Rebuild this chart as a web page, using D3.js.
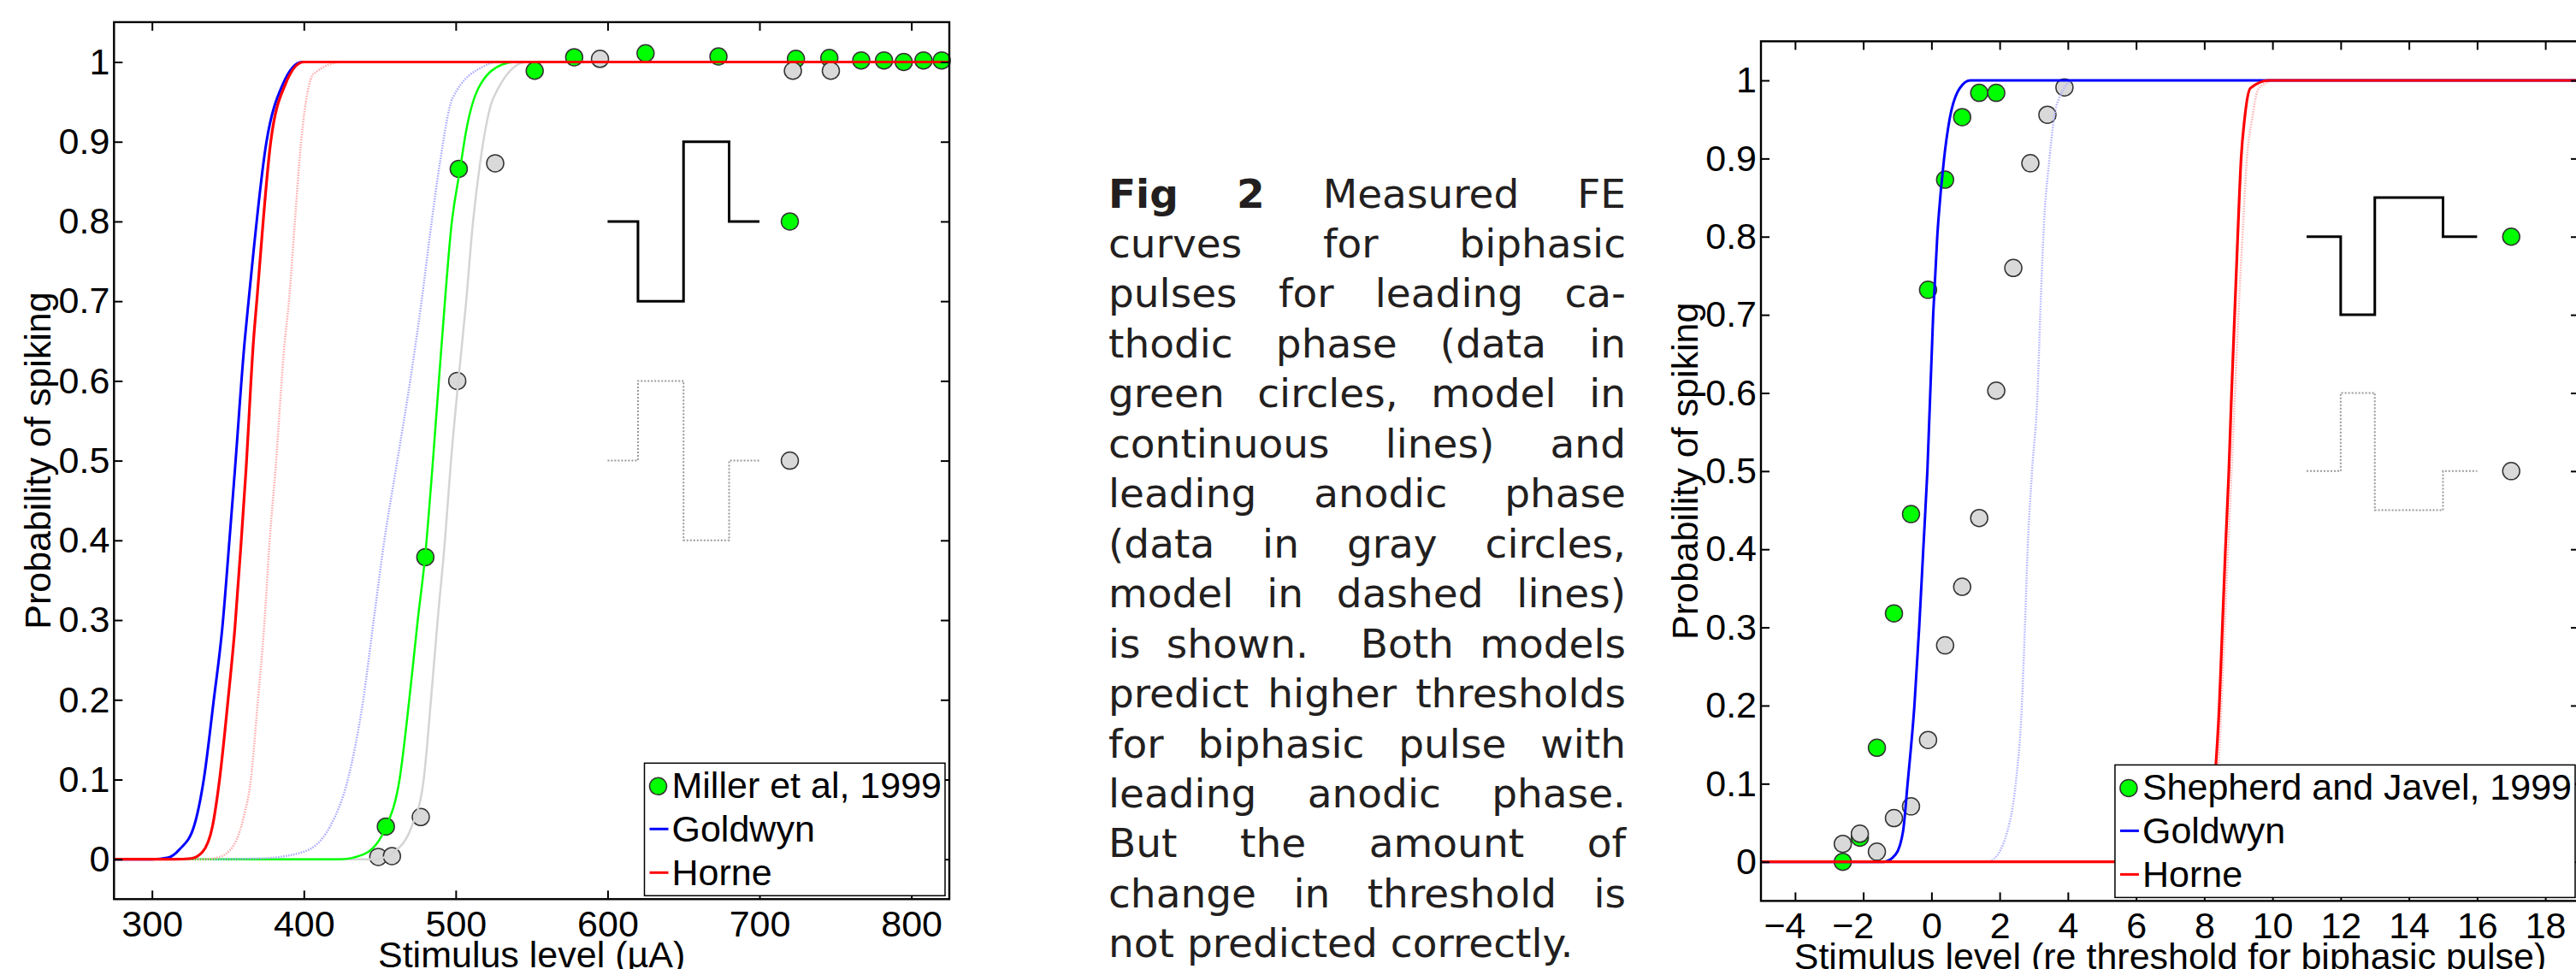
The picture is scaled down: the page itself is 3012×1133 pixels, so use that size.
<!DOCTYPE html>
<html>
<head>
<meta charset="utf-8">
<script src="https://cdn.jsdelivr.net/npm/d3@7"></script>
<style>
  body { margin: 0; background: #fff; }
  svg text { font-family: "Liberation Sans", Arial, Helvetica, sans-serif; }
</style>
</head>
<body>
<svg id="fig" width="3012" height="1133"></svg>
<script>
// ------------------------
// Shared axis values
// ------------------------
const probDomain = [-0.05, 1.05];
const probTicks = [0, 0.1, 0.2, 0.3, 0.4, 0.5, 0.6, 0.7, 0.8, 0.9, 1];
const probTickLabels = ["0", "0.1", "0.2", "0.3", "0.4", "0.5", "0.6", "0.7", "0.8", "0.9", "1"];

// ------------------------
// Left panel: Miller et al, 1999 (µA)
// ------------------------
const leftXDomain = [275, 825];
const leftXTicks = [300, 400, 500, 600, 700, 800];
const leftXTickLabels = ["300", "400", "500", "600", "700", "800"];

// measured points: [stimulus, probability]
const millerCathodic = [[454, 0.041], [480, 0.379], [502, 0.866], [552, 0.989], [578, 1.006],
  [625, 1.011], [673, 1.007], [724, 1.004], [746, 1.005], [767, 1.002], [782, 1.002],
  [795, 1.000], [808, 1.002], [820, 1.002]];
const millerAnodic = [[449, 0.003], [458, 0.004], [477, 0.053], [501, 0.600], [526, 0.873],
  [595, 1.004], [722, 0.989], [747, 0.989]];

// model / fit curves
const leftGoldwynCath = [[275, 0], [300, 0], [310.7, 0.002], [318.2, 0.0125], [327.6, 0.041],
  [334.1, 0.1], [340.7, 0.2], [346.3, 0.29], [351, 0.4], [354.6, 0.488], [361, 0.649],
  [363.6, 0.7], [375.4, 0.9], [385.9, 0.971], [398.9, 1], [825, 1]];
const leftHorneCath = [[275, 0], [315, 0], [325.7, 0.001], [333.2, 0.009], [339.8, 0.041],
  [344.5, 0.1], [350.1, 0.2], [354.6, 0.29], [358.8, 0.4], [361.9, 0.488], [366.8, 0.649],
  [369, 0.7], [378.2, 0.9], [387.6, 0.971], [399.8, 1], [825, 1]];
const leftHorneAnod = [[275, 0], [335, 0], [344.5, 0.003], [353.8, 0.0175], [360.4, 0.053],
  [365.1, 0.1], [369.8, 0.2], [373.8, 0.29], [377.5, 0.4], [381.3, 0.488], [387.4, 0.649],
  [390.2, 0.7], [394.1, 0.8], [398.2, 0.9], [406.4, 0.985], [425.2, 1], [825, 1]];
const leftGoldwynAnod = [[275, 0], [340, 0], [371.4, 0.001], [399.3, 0.009], [417.2, 0.041],
  [429.1, 0.101], [439.1, 0.2], [446, 0.3], [453, 0.4], [460.5, 0.488], [470, 0.6],
  [477.5, 0.7], [483.5, 0.79], [489.5, 0.8725], [498, 0.955], [518.8, 0.995], [526.8, 1], [825, 1]];
const leftCathFit = [[275, 0], [423.2, 0], [439.1, 0.006], [454.2, 0.041], [463, 0.1],
  [469.4, 0.2], [475, 0.3], [479.8, 0.379], [485, 0.5], [488.9, 0.6], [492.9, 0.7],
  [496.9, 0.79], [502.9, 0.866], [506.9, 0.914], [514.9, 0.967], [530.8, 0.997], [538.7, 1], [825, 1]];
const leftAnodFit = [[275, 0], [447.1, 0], [463, 0.015], [471, 0.041], [478.9, 0.1],
  [483.7, 0.2], [488.1, 0.3], [492.9, 0.4], [496.9, 0.5], [501.7, 0.6], [506.9, 0.7],
  [510.9, 0.79], [516, 0.8725], [524.8, 0.955], [546.6, 1], [825, 1]];

// pulse shape icons
const leftPulseCath = [[600, 0.8], [620, 0.8], [620, 0.7], [650, 0.7], [650, 0.9], [680, 0.9], [680, 0.8], [700, 0.8]];
const leftPulseAnod = [[600, 0.5], [620, 0.5], [620, 0.6], [650, 0.6], [650, 0.4], [680, 0.4], [680, 0.5], [700, 0.5]];
const leftIconMarks = [[720, 0.8], [720, 0.5]];

// ------------------------
// Right panel: Shepherd and Javel, 1999 (re threshold)
// ------------------------
const rightXDomain = [-5, 19];
const rightXTicks = [-4, -2, 0, 2, 4, 6, 8, 10, 12, 14, 16, 18];
const rightXTickLabels = ["\u22124", "\u22122", "0", "2", "4", "6", "8", "10", "12", "14", "16", "18"];

const shepherdCathodic = [[-2.6, 0.0], [-2.1, 0.031], [-1.6, 0.146], [-1.1, 0.318], [-0.6, 0.445],
  [-0.1, 0.732], [0.4, 0.873], [0.9, 0.953], [1.4, 0.984], [1.9, 0.984]];
const shepherdAnodic = [[-2.6, 0.023], [-2.1, 0.036], [-1.6, 0.013], [-1.1, 0.056], [-0.6, 0.071],
  [-0.1, 0.156], [0.4, 0.277], [0.9, 0.352], [1.4, 0.440], [1.9, 0.603], [2.4, 0.760],
  [2.9, 0.894], [3.4, 0.956], [3.9, 0.991]];

const rightGoldwynCath = [[-5, 0], [-1.4, 0], [-1.05, 0.0095], [-0.83, 0.04], [-0.7, 0.1],
  [-0.5, 0.2], [-0.36, 0.3], [-0.24, 0.4], [-0.12, 0.5], [0.05, 0.7], [0.17, 0.8],
  [0.37, 0.9], [0.53, 0.95], [0.83, 0.99], [1.14, 1], [19, 1]];
const rightGoldwynAnod = [[-5, 0], [1.6, 0], [1.77, 0.002], [2.29, 0.05], [2.47, 0.1],
  [2.65, 0.2], [2.74, 0.3], [2.82, 0.4], [2.95, 0.5], [3.11, 0.6], [3.19, 0.7],
  [3.28, 0.8], [3.46, 0.9], [3.68, 0.97], [4.17, 1], [19, 1]];
const rightHorneCath = [[-5, 0], [7.9, 0], [8.15, 0.03], [8.3, 0.1], [8.44, 0.2], [8.53, 0.3],
  [8.62, 0.4], [8.72, 0.5], [8.8, 0.6], [8.89, 0.7], [8.98, 0.8], [9.08, 0.9],
  [9.18, 0.95], [9.35, 0.99], [9.9, 1], [19, 1]];
const rightHorneAnod = [[-5, 0], [8.0, 0], [8.38, 0.1], [8.6, 0.3], [8.7, 0.4], [8.8, 0.5],
  [8.9, 0.6], [9.0, 0.7], [9.12, 0.8], [9.25, 0.9], [9.4, 0.95], [9.6, 0.99], [10.1, 1], [19, 1]];

const rightPulseCath = [[11, 0.8], [12, 0.8], [12, 0.7], [13, 0.7], [13, 0.85], [15, 0.85], [15, 0.8], [16, 0.8]];
const rightPulseAnod = [[11, 0.5], [12, 0.5], [12, 0.6], [13, 0.6], [13, 0.45], [15, 0.45], [15, 0.5], [16, 0.5]];
const rightIconMarks = [[17, 0.8], [17, 0.5]];

// ------------------------
// Caption text (justified block)
// ------------------------
const captionLines = [
  "Fig 2 Measured FE",
  "curves for biphasic",
  "pulses for leading ca-",
  "thodic phase (data in",
  "green circles, model in",
  "continuous lines) and",
  "leading anodic phase",
  "(data in gray circles,",
  "model in dashed lines)",
  "is shown. Both models",
  "predict higher thresholds",
  "for biphasic pulse with",
  "leading anodic phase.",
  "But the amount of",
  "change in threshold is",
  "not predicted correctly."
];
const captionBoldWords = 2;

const GREEN = "#00ff00";
const GRAY = "#d9d9d9";
const FONT = 43;

const svg = d3.select("#fig");
svg.append("rect").attr("width", 3012).attr("height", 1133).attr("fill", "#fff");

function drawPanel(cfg) {
  const x = d3.scaleLinear().domain(cfg.xDomain).range([cfg.left, cfg.right]);
  const y = d3.scaleLinear().domain(probDomain).range([cfg.bottom, cfg.top]);
  const g = svg.append("g");

  const clipId = "clip-" + cfg.id;
  svg.append("clipPath").attr("id", clipId).append("rect")
    .attr("x", cfg.left).attr("y", cfg.top)
    .attr("width", cfg.right - cfg.left).attr("height", cfg.bottom - cfg.top);

  // data points (lines are drawn over them)
  const points = (pts, fill) => g.append("g").selectAll("circle")
    .data(pts).join("circle")
    .attr("cx", d => x(d[0])).attr("cy", d => y(d[1])).attr("r", 10)
    .attr("fill", fill).attr("stroke", "#333").attr("stroke-width", 1.5);
  points(cfg.green, GREEN);
  points(cfg.gray, GRAY);

  const line = d3.line().x(d => x(d[0])).y(d => y(d[1])).curve(d3.curveMonotoneX);
  const cg = g.append("g").attr("clip-path", `url(#${clipId})`);
  cfg.curves.forEach(c => {
    cg.append("path").datum(c.data)
      .attr("d", line)
      .attr("fill", "none")
      .attr("stroke", c.color)
      .attr("stroke-width", c.width)
      .attr("stroke-dasharray", c.dash || null);
  });

  // pulse icons
  const step = d3.line().x(d => x(d[0])).y(d => y(d[1]));
  g.append("path").datum(cfg.pulseCath).attr("d", step)
    .attr("fill", "none").attr("stroke", "#000").attr("stroke-width", 3);
  g.append("path").datum(cfg.pulseAnod).attr("d", step)
    .attr("fill", "none").attr("stroke", "#999").attr("stroke-width", 2)
    .attr("stroke-dasharray", "2,2");
  g.selectAll("circle.icon").data(cfg.iconMarks).join("circle")
    .attr("class", "icon")
    .attr("cx", d => x(d[0])).attr("cy", d => y(d[1])).attr("r", 10)
    .attr("fill", (d, i) => i === 0 ? GREEN : GRAY)
    .attr("stroke", "#333").attr("stroke-width", 1.5);

  // axes: box with inward ticks on all four sides
  const styleAxis = sel => {
    sel.select(".domain").remove();
    sel.attr("font-size", FONT).attr("font-family", '"Liberation Sans", Arial, sans-serif');
    sel.selectAll("line").attr("stroke", "#000").attr("stroke-width", 2);
    sel.selectAll("text").attr("fill", "#000");
  };
  g.append("g").attr("transform", `translate(0,${cfg.bottom})`)
    .call(d3.axisBottom(x).tickValues(cfg.xTicks)
      .tickFormat((d, i) => cfg.xTickLabels[i])
      .tickSize(-10).tickSizeOuter(0).tickPadding(13))
    .call(styleAxis)
    .selectAll("text").attr("dx", d => d < 0 ? "-0.29em" : null);
  g.append("g").attr("transform", `translate(0,${cfg.top})`)
    .call(d3.axisTop(x).tickValues(cfg.xTicks).tickFormat("").tickSize(-10).tickSizeOuter(0))
    .call(styleAxis);
  g.append("g").attr("transform", `translate(${cfg.left},0)`)
    .call(d3.axisLeft(y).tickValues(probTicks)
      .tickFormat((d, i) => probTickLabels[i])
      .tickSize(-10).tickSizeOuter(0).tickPadding(5))
    .call(styleAxis);
  g.append("g").attr("transform", `translate(${cfg.right},0)`)
    .call(d3.axisRight(y).tickValues(probTicks).tickFormat("").tickSize(-10).tickSizeOuter(0))
    .call(styleAxis);

  g.append("rect")
    .attr("x", cfg.left).attr("y", cfg.top)
    .attr("width", cfg.right - cfg.left).attr("height", cfg.bottom - cfg.top)
    .attr("fill", "none").attr("stroke", "#000").attr("stroke-width", 2.4);

  // axis labels
  g.append("text")
    .attr("x", (cfg.left + cfg.right) / 2).attr("y", cfg.bottom + 80)
    .attr("text-anchor", "middle").attr("font-size", FONT)
    .text(cfg.xLabel);
  g.append("text")
    .attr("transform", `translate(${cfg.left - 74},${(cfg.top + cfg.bottom) / 2}) rotate(-90)`)
    .attr("text-anchor", "middle").attr("font-size", FONT)
    .text("Probability of spiking");

  // legend (bottom right corner)
  const lg = g.append("g");
  const names = [cfg.dataName, "Goldwyn", "Horne"];
  const lBottom = cfg.bottom - 4, lHeight = 155;
  const lTop = lBottom - lHeight;
  const texts = lg.selectAll("text").data(names).join("text")
    .attr("y", (d, i) => lTop + 41 + i * 51)
    .attr("font-size", FONT)
    .text(d => d);
  const tw = d3.max(texts.nodes(), n => n.getComputedTextLength());
  const lWidth = 32 + tw + 4;
  const lLeft = cfg.right - 5 - lWidth;
  texts.attr("x", lLeft + 32);
  lg.insert("rect", ":first-child")
    .attr("x", lLeft).attr("y", lTop).attr("width", lWidth).attr("height", lHeight)
    .attr("fill", "#fff").attr("stroke", "#000").attr("stroke-width", 1.5);
  lg.append("circle")
    .attr("cx", lLeft + 16).attr("cy", lTop + 27).attr("r", 10)
    .attr("fill", GREEN).attr("stroke", "#333").attr("stroke-width", 1.5);
  ["#0000ff", "#ff0000"].forEach((c, i) => {
    lg.append("line")
      .attr("x1", lLeft + 6).attr("x2", lLeft + 28)
      .attr("y1", lTop + 41 + (i + 1) * 51 - 15).attr("y2", lTop + 41 + (i + 1) * 51 - 15)
      .attr("stroke", c).attr("stroke-width", 3);
  });
}

const dotted = "1.5,1.5";

drawPanel({
  id: "left", left: 133.3, right: 1110, top: 25.9, bottom: 1051.3,
  xDomain: leftXDomain, xTicks: leftXTicks, xTickLabels: leftXTickLabels,
  xLabel: "Stimulus level (\u00b5A)", dataName: "Miller et al, 1999",
  green: millerCathodic, gray: millerAnodic,
  curves: [
    { data: leftAnodFit, color: "#d4d4d4", width: 2.5 },
    { data: leftCathFit, color: "#00ff00", width: 2.5 },
    { data: leftGoldwynAnod, color: "#a8a8ff", width: 2.5, dash: dotted },
    { data: leftHorneAnod, color: "#ffaaaa", width: 2.5, dash: dotted },
    { data: leftGoldwynCath, color: "#0000ff", width: 3 },
    { data: leftHorneCath, color: "#ff0000", width: 3.2 }
  ],
  pulseCath: leftPulseCath, pulseAnod: leftPulseAnod, iconMarks: leftIconMarks
});

drawPanel({
  id: "right", left: 2059, right: 3016, top: 48.3, bottom: 1053.4,
  xDomain: rightXDomain, xTicks: rightXTicks, xTickLabels: rightXTickLabels,
  xLabel: "Stimulus level (re threshold for biphasic pulse)", dataName: "Shepherd and Javel, 1999",
  green: shepherdCathodic, gray: shepherdAnodic,
  curves: [
    { data: rightGoldwynAnod, color: "#b4b4ff", width: 2.5, dash: dotted },
    { data: rightHorneAnod, color: "#ffb4b4", width: 2.5, dash: dotted },
    { data: rightGoldwynCath, color: "#0000ff", width: 3 },
    { data: rightHorneCath, color: "#ff0000", width: 3.2 }
  ],
  pulseCath: rightPulseCath, pulseAnod: rightPulseAnod, iconMarks: rightIconMarks
});

// ------------------------
// Caption: justified lines, placed word by word
// ------------------------
const cap = svg.append("g")
  .attr("font-family", '"DejaVu Sans", Verdana, sans-serif')
  .attr("font-size", 47)
  .attr("fill", "#231f20");
const capLeft = 1296, capRight = 1901, capTop = 242.5, capLead = 58.46;
let wordIndex = 0;
captionLines.forEach((ln, li) => {
  const words = ln.split(" ");
  const baseY = capTop + li * capLead;
  const nodes = words.map(w => {
    const t = cap.append("text")
      .attr("y", baseY)
      .attr("font-weight", wordIndex++ < captionBoldWords ? "bold" : null)
      .style("font-family", '"DejaVu Sans", Verdana, sans-serif')
      .text(w);
    return { t, w, len: t.node().getComputedTextLength() };
  });
  const total = d3.sum(nodes, n => n.len);
  const last = li === captionLines.length - 1;
  // a sentence end inside a line gets a double-width gap
  const weights = nodes.slice(0, -1).map(n => /\.$/.test(n.w) ? 2 : 1);
  const wsum = d3.sum(weights) || 1;
  const gap = last ? 0.318 * 47 : (capRight - capLeft - total) / wsum;
  let cx = capLeft;
  nodes.forEach((n, i) => {
    n.t.attr("x", cx);
    cx += n.len + (i < weights.length ? gap * (last ? 1 : weights[i]) : 0);
  });
});
</script>
</body>
</html>
